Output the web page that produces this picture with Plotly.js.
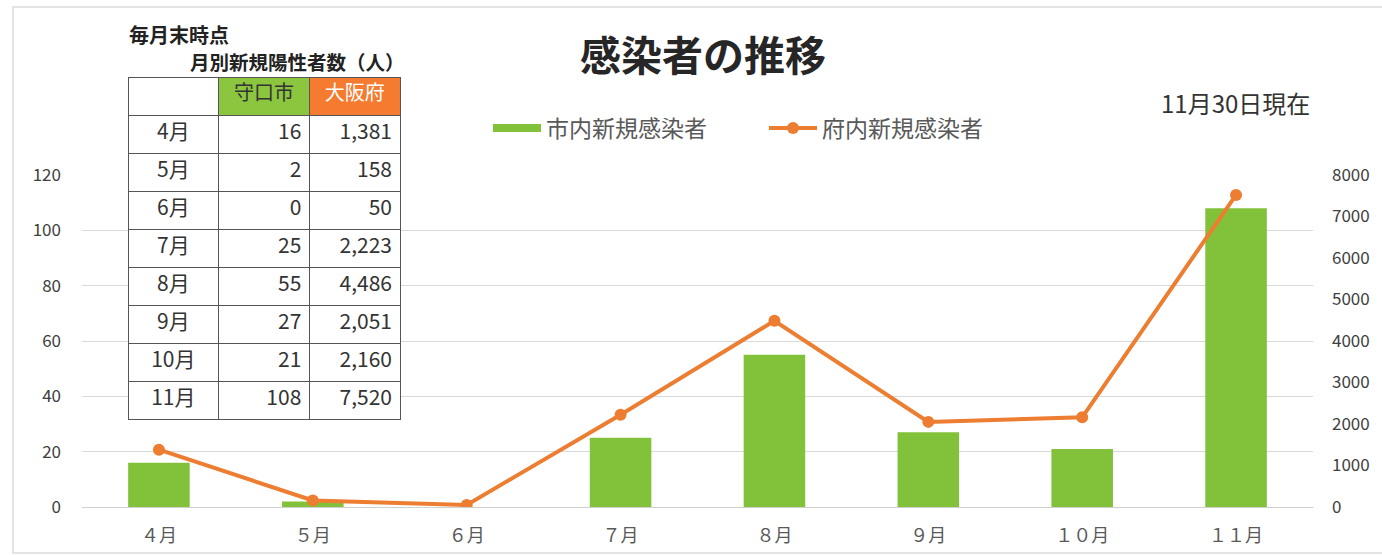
<!DOCTYPE html>
<html>
<head>
<meta charset="utf-8">
<script src="https://cdn.plot.ly/plotly-3.0.1.min.js"></script>
<style>html,body{margin:0;padding:0;background:#fff;}#chart{width:1382px;height:555px;}</style>
</head>
<body>
<div id="chart"></div>
<script>
// ---- data ----
var categories = ['４月', '５月', '６月', '７月', '８月', '９月', '１０月', '１１月'];
var tableMonths = ['4月', '5月', '6月', '7月', '8月', '9月', '10月', '11月'];
var cityValues = [16, 2, 0, 25, 55, 27, 21, 108];
var prefValues = [1381, 158, 50, 2223, 4486, 2051, 2160, 7520];
var tableHeader = ['', '守口市', '大阪府'];
var leftTicks = [0, 20, 40, 60, 80, 100, 120];
var rightTicks = [0, 1000, 2000, 3000, 4000, 5000, 6000, 7000, 8000];

var W = 1382, H = 555;
var mL = 82, mR = 69, mT = 5, mB = 48;
var pw = W - mL - mR, ph = H - mT - mB;
function px(x) { return (x - mL) / pw; }
function py(y) { return (H - mB - y) / ph; }

var FONT = '"Noto Sans CJK JP", "Noto Sans", sans-serif';
var green = '#82c23b';
var orange = '#ed7d31';

var traces = [
  {
    type: 'bar', name: '市内新規感染者', x: categories, y: cityValues,
    marker: { color: green }, yaxis: 'y', hoverinfo: 'skip', showlegend: false, legendgroup: 'city'
  },
  {
    // legend entry for the bars (wide swatch as in the original)
    type: 'scatter', mode: 'lines', name: '市内新規感染者', x: [null], y: [null],
    line: { color: green, width: 8 }, legendgroup: 'city', hoverinfo: 'skip'
  },
  {
    type: 'scatter', mode: 'lines+markers', name: '府内新規感染者', x: categories, y: prefValues,
    yaxis: 'y2', line: { color: orange, width: 4 }, marker: { color: orange, size: 12 }, hoverinfo: 'skip'
  },
  {
    type: 'table',
    domain: { x: [px(128), px(400.5)], y: [py(421), py(77)] },
    columnwidth: [1, 1, 1],
    header: {
      values: tableHeader,
      fill: { color: ['#ffffff', '#8cc63f', '#f47b2f'] },
      font: { family: FONT, size: 20, color: ['#333333', '#333333', '#ffffff'] },
      line: { color: '#555555', width: 1 },
      align: 'center',
      height: 38
    },
    cells: {
      values: [tableMonths, cityValues, prefValues],
      format: ['', 'd', ','],
      fill: { color: '#ffffff' },
      font: { family: FONT, size: 21, color: '#333333' },
      line: { color: '#555555', width: 1 },
      align: ['center', 'right', 'right'],
      height: 38
    }
  }
];

var layout = {
  width: W, height: H,
  margin: { l: mL, r: mR, t: mT, b: mB, pad: 0 },
  paper_bgcolor: '#ffffff', plot_bgcolor: '#ffffff',
  font: { family: FONT, color: '#404040' },
  showlegend: true,
  bargap: 0.6,
  title: {
    text: '<b>感染者の推移</b>',
    font: { family: FONT, size: 41, color: '#262626' },
    x: 703 / W, xref: 'container', xanchor: 'center',
    y: 1 - 57 / H, yref: 'container', yanchor: 'middle'
  },
  legend: {
    orientation: 'h', x: px(488), xanchor: 'left', y: py(128), yanchor: 'middle',
    font: { family: FONT, size: 23, color: '#595959' },
    bgcolor: 'rgba(0,0,0,0)', itemwidth: 48, entrywidth: 213, tracegroupgap: 0
  },
  xaxis: {
    type: 'category', domain: [0, 1], showgrid: false, zeroline: false,
    showline: false, ticks: '', ticklabelstandoff: 16,
    tickfont: { family: FONT, size: 18, color: '#595959' }
  },
  yaxis: {
    domain: [0, py(175)], range: [0, 120], tickvals: leftTicks,
    showgrid: true, gridcolor: '#d9d9d9', gridwidth: 1,
    zeroline: true, zerolinecolor: '#d0d0d0', zerolinewidth: 1,
    showline: false, ticks: '', ticklabelstandoff: 20,
    tickfont: { family: FONT, size: 17, color: '#404040' }
  },
  yaxis2: {
    overlaying: 'y', side: 'right', range: [0, 8000], tickvals: rightTicks,
    showgrid: false, zeroline: false, showline: false, ticks: '', ticklabelstandoff: 18,
    tickfont: { family: FONT, size: 17, color: '#404040' }
  },
  annotations: [
    {
      text: '11月30日現在', xref: 'paper', yref: 'paper', x: px(1312), y: py(102),
      xanchor: 'right', yanchor: 'middle', showarrow: false,
      font: { family: FONT, size: 24, color: '#333333' }
    },
    {
      text: '<b>毎月末時点</b>', xref: 'paper', yref: 'paper', x: px(127), y: py(35),
      xanchor: 'left', yanchor: 'middle', showarrow: false,
      font: { family: FONT, size: 20, color: '#222222' }
    },
    {
      text: '<b>月別新規陽性者数（人）</b>', xref: 'paper', yref: 'paper', x: px(407), y: py(61),
      xanchor: 'right', yanchor: 'middle', showarrow: false,
      font: { family: FONT, size: 19.5, color: '#222222' }
    }
  ],
  shapes: [
    {
      type: 'rect', xref: 'paper', yref: 'paper', layer: 'below',
      x0: px(13), x1: px(1395), y0: py(553), y1: py(7),
      line: { color: '#dcdcdc', width: 1.5 }, fillcolor: 'rgba(0,0,0,0)'
    }
  ]
};

Plotly.newPlot('chart', traces, layout, { displayModeBar: false, staticPlot: true });
</script>
</body>
</html>
